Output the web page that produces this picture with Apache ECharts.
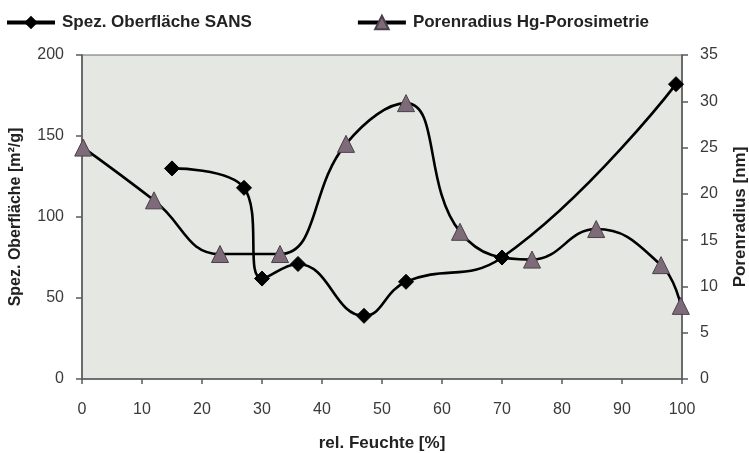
<!DOCTYPE html>
<html>
<head>
<meta charset="utf-8">
<script src="https://cdn.jsdelivr.net/npm/echarts@6/dist/echarts.min.js"></script>
<style>html,body{margin:0;padding:0;background:#fff}#c{width:749px;height:453px}</style>
</head>
<body>
<div id="c"></div>
<script>
const sansX = [15, 27, 30, 36, 47, 54, 70, 99];
const sansY = [130, 118, 62, 71, 39, 60, 75, 182];
const hgX = [0.2, 12, 23, 33, 44, 54, 63, 75, 85.7, 96.5, 99.8];
const hgY = [25, 19.3, 13.5, 13.5, 25.4, 29.8, 15.9, 12.9, 16.2, 12.3, 7.9];
const xTicks = [0, 10, 20, 30, 40, 50, 60, 70, 80, 90, 100];
const leftTicks = [0, 50, 100, 150, 200];
const rightTicks = [0, 5, 10, 15, 20, 25, 30, 35];

const font = '"Liberation Sans", Arial, sans-serif';
const chart = echarts.init(document.getElementById('c'), null, {renderer: 'canvas'});
const axisLine = {show: true, lineStyle: {color: '#5a5a5a', width: 1.5}};
const nameStyle = {fontFamily: font, fontWeight: 'bold', fontSize: 16, color: '#222'};
const labelStyle = {fontFamily: font, fontSize: 16, color: '#3a3a3a'};
chart.setOption({
  animation: false,
  backgroundColor: '#fff',
  textStyle: {fontFamily: font},
  legend: {
    top: 9, left: 0, itemGap: 104, itemWidth: 48, itemHeight: 17,
    lineStyle: {width: 4},
    textStyle: {fontFamily: font, fontWeight: 'bold', fontSize: 17, color: '#222', padding: [0, 0, 0, 2]},
    data: ['Spez. Oberfläche SANS', 'Porenradius Hg-Porosimetrie']
  },
  grid: {
    left: 82, right: 67, top: 55, bottom: 74,
    containLabel: false, outerBoundsMode: 'none',
    show: true, backgroundColor: '#e4e7e2', borderColor: '#6a6a6a', borderWidth: 1.2
  },
  xAxis: {
    type: 'value', min: xTicks[0], max: xTicks[xTicks.length - 1], interval: 10,
    name: 'rel. Feuchte [%]', nameLocation: 'middle', nameGap: 56,
    nameTextStyle: Object.assign({}, nameStyle, {fontSize: 17}),
    axisLine: axisLine,
    axisTick: {show: true, length: 5, lineStyle: {color: '#5a5a5a', width: 1.5}},
    axisLabel: Object.assign({margin: 23}, labelStyle),
    splitLine: {show: false}
  },
  yAxis: [{
    type: 'value', min: leftTicks[0], max: leftTicks[leftTicks.length - 1], interval: 50,
    name: 'Spez. Oberfläche [m²/g]', nameLocation: 'middle', nameGap: 58,
    nameTextStyle: nameStyle,
    axisLine: axisLine,
    axisTick: {show: true, length: 6, lineStyle: {color: '#5a5a5a', width: 1.5}},
    axisLabel: Object.assign({margin: 18}, labelStyle),
    splitLine: {show: false}
  }, {
    type: 'value', position: 'right', min: rightTicks[0], max: rightTicks[rightTicks.length - 1], interval: 5,
    name: 'Porenradius [nm]', nameLocation: 'middle', nameGap: 50, nameRotate: 90,
    nameTextStyle: Object.assign({}, nameStyle, {fontSize: 17}),
    axisLine: axisLine,
    axisTick: {show: true, length: 6, lineStyle: {color: '#5a5a5a', width: 1.5}},
    axisLabel: Object.assign({margin: 18}, labelStyle),
    splitLine: {show: false}
  }],
  series: [{
    name: 'Spez. Oberfläche SANS', type: 'line', yAxisIndex: 0,
    data: sansX.map((x, i) => [x, sansY[i]]),
    smooth: 0.45, symbol: 'diamond', symbolSize: 15,
    lineStyle: {color: '#000', width: 2.6},
    itemStyle: {color: '#000', borderColor: '#000'},
    z: 3
  }, {
    name: 'Porenradius Hg-Porosimetrie', type: 'line', yAxisIndex: 1,
    data: hgX.map((x, i) => [x, hgY[i]]),
    smooth: 0.45, symbol: 'triangle', symbolSize: 17,
    lineStyle: {color: '#000', width: 2.6},
    itemStyle: {color: '#7e6b7a', borderColor: '#4a4048', borderWidth: 1},
    z: 2
  }]
});
</script>
</body>
</html>
